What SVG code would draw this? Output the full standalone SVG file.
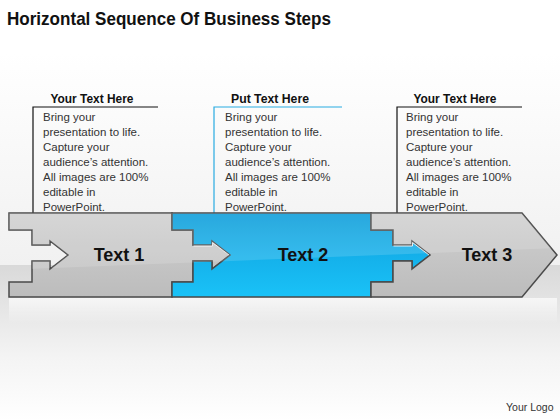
<svg xmlns="http://www.w3.org/2000/svg" width="560" height="420" viewBox="0 0 560 420">
<defs>
<linearGradient id="bgTop" x1="0" y1="0" x2="0" y2="1"><stop offset="0" stop-color="#ffffff"/><stop offset="0.2" stop-color="#ffffff"/><stop offset="1" stop-color="#f1f1f1"/></linearGradient>
<linearGradient id="bgFloor" x1="0" y1="0" x2="0" y2="1"><stop offset="0" stop-color="#d9d9d9"/><stop offset="0.6" stop-color="#f4f4f4"/><stop offset="1" stop-color="#ffffff"/></linearGradient>
<linearGradient id="grey" x1="0" y1="0" x2="0" y2="1"><stop offset="0" stop-color="#cfcfcf"/><stop offset="0.5" stop-color="#c6c6c6"/><stop offset="1" stop-color="#bcbcbc"/></linearGradient>
<linearGradient id="blue" x1="0" y1="0" x2="0" y2="1"><stop offset="0" stop-color="#069ad8"/><stop offset="0.5" stop-color="#14b0ea"/><stop offset="1" stop-color="#1ac2f7"/></linearGradient>
<linearGradient id="refl" x1="0" y1="0" x2="0" y2="1"><stop offset="0" stop-color="#ffffff" stop-opacity="0.7"/><stop offset="1" stop-color="#ffffff" stop-opacity="0"/></linearGradient>
<clipPath id="bandClip"><path d="M9,213 H522 L557,255 L522,297 H9 V282 H32 V261 H50 V269 L68,255 L50,241 V245 H32 V230 H9 Z"/></clipPath>
</defs>
<style>
.title{font-family:"Liberation Sans",Arial,sans-serif;font-weight:bold;font-size:19px;fill:#111}
.hdr{font-family:"Liberation Sans",Arial,sans-serif;font-weight:bold;font-size:12px;fill:#111;text-anchor:middle}
.body{font-family:"Liberation Sans",Arial,sans-serif;font-size:11.5px;fill:#333}
.lbl{font-family:"Liberation Sans",Arial,sans-serif;font-weight:bold;font-size:18px;fill:#111;text-anchor:middle}
.seg{stroke:#4a4a4a;stroke-width:1.5;stroke-linejoin:miter}
.bl{fill:none;stroke:#111;stroke-width:1.2}
.bc{fill:none;stroke:#29abe2;stroke-width:1.2}
.logo{font-family:"Liberation Sans",Arial,sans-serif;font-size:10.5px;fill:#333}
</style>
<rect x="0" y="0" width="560" height="265" fill="url(#bgTop)"/>
<rect x="0" y="265" width="560" height="155" fill="url(#bgFloor)"/>
<text class="title" x="7" y="25" textLength="324" lengthAdjust="spacingAndGlyphs">Horizontal Sequence Of Business Steps</text>

<g id="box1">
<path class="bl" d="M33,213 V107 H158"/>
<text class="hdr" x="92" y="103" textLength="83" lengthAdjust="spacingAndGlyphs">Your Text Here</text>
<text class="body"><tspan x="43" y="121">Bring your</tspan><tspan x="43" y="136">presentation to life.</tspan><tspan x="43" y="151">Capture your</tspan><tspan x="43" y="166">audience’s attention.</tspan><tspan x="43" y="181">All images are 100%</tspan><tspan x="43" y="196">editable in</tspan><tspan x="43" y="211">PowerPoint.</tspan></text>
</g>
<g id="box2">
<path class="bc" d="M214,213 V107 H342"/>
<text class="hdr" x="270" y="103" textLength="78" lengthAdjust="spacingAndGlyphs">Put Text Here</text>
<text class="body"><tspan x="225" y="121">Bring your</tspan><tspan x="225" y="136">presentation to life.</tspan><tspan x="225" y="151">Capture your</tspan><tspan x="225" y="166">audience’s attention.</tspan><tspan x="225" y="181">All images are 100%</tspan><tspan x="225" y="196">editable in</tspan><tspan x="225" y="211">PowerPoint.</tspan></text>
</g>
<g id="box3">
<path class="bl" d="M397,213 V107 H522"/>
<text class="hdr" x="455" y="103" textLength="83" lengthAdjust="spacingAndGlyphs">Your Text Here</text>
<text class="body"><tspan x="406" y="121">Bring your</tspan><tspan x="406" y="136">presentation to life.</tspan><tspan x="406" y="151">Capture your</tspan><tspan x="406" y="166">audience’s attention.</tspan><tspan x="406" y="181">All images are 100%</tspan><tspan x="406" y="196">editable in</tspan><tspan x="406" y="211">PowerPoint.</tspan></text>
</g>

<rect x="9" y="298" width="548" height="26" fill="url(#refl)"/>

<g id="step1">
<path class="seg" fill="url(#grey)" d="M9,213 H172 V230 H193 V245 H212 V241 L230,255 L212,269 V261 H193 V282 H172 V297 H9 V282 H32 V261 H50 V269 L68,255 L50,241 V245 H32 V230 H9 Z"/>
</g>
<g id="step2">
<path class="seg" fill="url(#blue)" d="M172,213 H371 V230 H393 V245 H412 V241 L430,255 L412,269 V261 H393 V282 H371 V297 H172 V282 H193 V261 H212 V269 L230,255 L212,241 V245 H193 V230 H172 Z"/>
</g>
<g id="step3">
<path class="seg" fill="url(#grey)" d="M371,213 H522 L557,255 L522,297 H371 V282 H393 V261 H412 V269 L430,255 L412,241 V245 H393 V230 H371 Z"/>
</g>
<g clip-path="url(#bandClip)">
<polygon points="0,200 560,200 560,248 0,270" fill="#ffffff" opacity="0.14"/>
</g>
<g id="arrowHighlights" fill="none" stroke="#ffffff" stroke-width="1" opacity="0.85">
<path d="M193.5,246 H212.5 V242.5 L229,255"/>
<path d="M393.5,246 H412.5 V242.5 L429,255"/>
</g>
<g id="labels">
<text class="lbl" x="119" y="261">Text 1</text>
<text class="lbl" x="303" y="261">Text 2</text>
<text class="lbl" x="487" y="261">Text 3</text>
</g>
<text class="logo" x="506" y="411">Your Logo</text>
</svg>
